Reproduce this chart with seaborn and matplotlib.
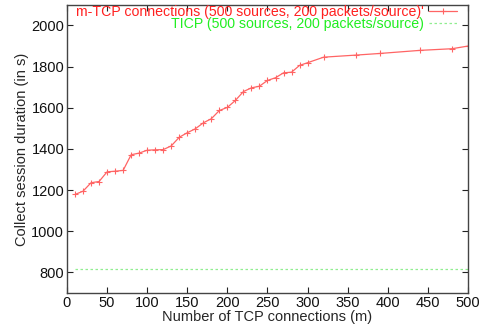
import matplotlib
matplotlib.use("Agg")
import matplotlib.pyplot as plt
import seaborn as sns
import pandas as pd

m_conn = [10, 20, 30, 40, 50, 60, 70, 80, 90, 100, 110, 120, 130, 140, 150, 160, 170, 180,
          190, 200, 210, 220, 230, 240, 250, 260, 270, 280, 290, 300, 320, 360, 390, 440, 480, 500]
mtcp_duration = [1179, 1195, 1236, 1242, 1289, 1292, 1296, 1372, 1380, 1394, 1396, 1397, 1415,
                 1457, 1479, 1498, 1527, 1547, 1587, 1602, 1636, 1679, 1697, 1705, 1733, 1746,
                 1770, 1773, 1806, 1819, 1846, 1856, 1864, 1879, 1887, 1900]
ticp_x = [10, 500]
ticp_duration = [818, 818]

label_mtcp = "m-TCP connections (500 sources, 200 packets/source)'"
label_ticp = "TICP (500 sources, 200 packets/source)"
x_ticks = [0, 50, 100, 150, 200, 250, 300, 350, 400, 450, 500]
y_ticks = [800, 1000, 1200, 1400, 1600, 1800, 2000]

sns.set_style("ticks")
plt.rcParams['font.family'] = ['Liberation Sans', 'DejaVu Sans']
plt.rcParams['font.size'] = 10.5

df_m = pd.DataFrame({"m": m_conn, "d": mtcp_duration})
df_t = pd.DataFrame({"m": ticp_x, "d": ticp_duration})

fig = plt.figure(figsize=(4.84, 3.26), dpi=100)
ax = fig.add_axes([0.1384, 0.101, 0.8285, 0.884])

red_line = "#ff6464"
sns.lineplot(data=df_m, x="m", y="d", ax=ax, color=red_line, lw=0.9,
             marker="+", markersize=4.5, markeredgewidth=0.8, markeredgecolor=red_line,
             label=label_mtcp)
sns.lineplot(data=df_t, x="m", y="d", ax=ax, color="#90ee90", lw=0.9,
             linestyle=(0, (2, 2)), label=label_ticp)

ax.set_xlim(0, 500)
ax.set_ylim(700, 2100)
ax.set_xticks(x_ticks)
ax.set_yticks(y_ticks)
ax.tick_params(direction="in", top=True, right=True, length=4, width=0.8,
               labelsize=10.5, pad=2, colors="#222222", labelcolor="#111111")
for s in ax.spines.values():
    s.set_visible(True)
    s.set_color("#444444")
    s.set_linewidth(1.0)
ax.set_xlabel("Number of TCP connections (m)", fontsize=10.5, labelpad=0)
ax.set_ylabel("Collect session duration (in s)", fontsize=10.5, labelpad=2)

leg = ax.legend(loc="upper right", bbox_to_anchor=(0.995, 1.03), frameon=False,
                markerfirst=False, fontsize=10.2, handlelength=2.0, handletextpad=0.35,
                labelspacing=-0.15, borderpad=0.1)
leg.get_texts()[0].set_color("#ff2020")
leg.get_texts()[1].set_color("#22ee22")
for t in leg.get_texts():
    t.set_ha("right")

fig.savefig("out.png", dpi=100)
